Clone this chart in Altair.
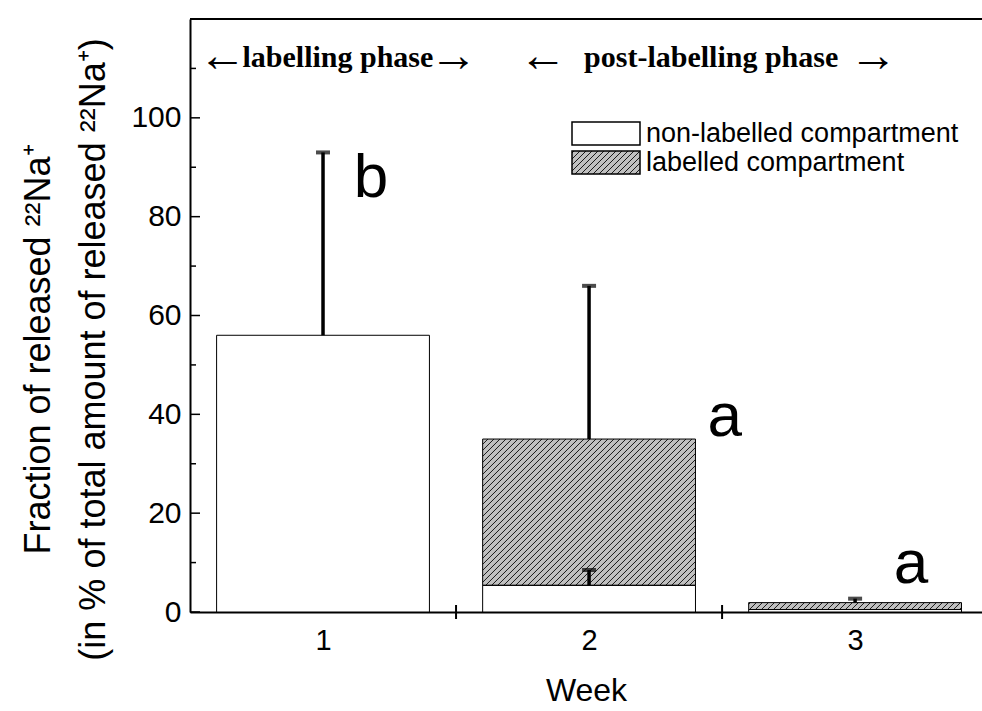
import altair as alt
import numpy as np
import pandas as pd

# ---- data -------------------------------------------------------------
weeks = [1, 2, 3]
non_labelled = [56.0, 5.4, 0.5]        # non-labelled compartment (%)
non_labelled_err = [37.0, 3.1, 0.0]    # upper error of the non-labelled part
labelled = [0.0, 29.6, 1.4]            # labelled compartment, stacked on top (%)
labelled_err = [0.0, 31.0, 0.8]        # upper error of the stacked total

sig_letters = ["b", "a", "a"]
letter_x = [1.18, 2.51, 3.21]
letter_y = [84.0, 35.7, 5.8]

phase_words = ["labelling phase", "post-labelling phase"]
phase_x = [1.056, 2.459]
arrow_glyphs = ["\u2190", "\u2192", "\u2190", "\u2192"]
arrow_x = [0.622, 1.490, 1.827, 3.068]
PHASE_Y = 110.3

legend_labels = ["non-labelled compartment", "labelled compartment"]

y_major = [0, 20, 40, 60, 80, 100]
y_minor = [10, 30, 50, 70, 90, 110]
x_between = [1.5, 2.5]

# ---- geometry ---------------------------------------------------------
W, H = 792, 593
X_DOM = [0.5, 3.477]
Y_DOM = [0, 120]
BAR_HALF = 0.4
KX = W / (X_DOM[1] - X_DOM[0])
KY = H / (Y_DOM[1] - Y_DOM[0])
HATCH_STEP = 6.0
FONT = "Liberation Sans"

xs = alt.Scale(domain=X_DOM, nice=False, zero=False)
ys = alt.Scale(domain=Y_DOM, nice=False)

y_title = ["Fraction of released \u00b2\u00b2Na\u207a",
           "(in % of total amount of released \u00b2\u00b2Na\u207a)"]

x_axis = alt.Axis(
    values=weeks, format="d", ticks=False, labelFontSize=29, labelFont=FONT,
    labelColor="black", labelPadding=14, domainColor="black", domainWidth=2,
    grid=False, title="Week", titleFont=FONT, titleFontSize=32,
    titleFontWeight="normal", titleColor="black", titlePadding=20)
y_axis = alt.Axis(
    values=y_major, ticks=False, labelFontSize=30, labelFont=FONT,
    labelColor="black", labelPadding=9, domainColor="black", domainWidth=2,
    grid=False, title=y_title, titleFont=FONT, titleFontSize=36,
    titleFontWeight="normal", titleColor="black", titleAngle=270,
    titleAlign="center", titleBaseline="alphabetic", titleLineHeight=55,
    titleX=-141, titleY=330)


def X(field):
    return alt.X(field, scale=xs, axis=x_axis)


def Y(field):
    return alt.Y(field, scale=ys, axis=y_axis)


def hatch_segments(x0, x1, y0, y1):
    """45-degree '/' hatch lines clipped to a rectangle given in data units."""
    u0, u1, v0, v1 = x0 * KX, x1 * KX, y0 * KY, y1 * KY
    k0 = int(np.ceil((v0 - u1) / HATCH_STEP))
    k1 = int(np.floor((v1 - u0) / HATCH_STEP))
    out = []
    for k in range(k0, k1 + 1):
        c = k * HATCH_STEP
        ua, ub = max(u0, v0 - c), min(u1, v1 - c)
        if ub - ua > 0.4:
            out.append(dict(hx=ua / KX, hy=(ua + c) / KY, hx2=ub / KX, hy2=(ub + c) / KY))
    return out


# bar segments, hatching and error bars
segs, hatch, errs = [], [], []
for w, nl, nle, lb, lbe in zip(weeks, non_labelled, non_labelled_err, labelled, labelled_err):
    x0, x1 = w - BAR_HALF, w + BAR_HALF
    segs.append(dict(x0=x0, x1=x1, y0=0.0, y1=nl, part="non-labelled"))
    if nle > 0:
        errs.append(dict(ex=w, lo=nl, hi=nl + nle))
    if lb > 0:
        segs.append(dict(x0=x0, x1=x1, y0=nl, y1=nl + lb, part="labelled"))
        hatch += hatch_segments(x0, x1, nl, nl + lb)
        if lbe > 0:
            errs.append(dict(ex=w, lo=nl + lb, hi=nl + lb + lbe))

seg_df = pd.DataFrame(segs)
hatch_df = pd.DataFrame(hatch)
err_df = pd.DataFrame(errs)

fill_scale = alt.Scale(domain=["non-labelled", "labelled"], range=["white", "#c0c0c0"])

bars = alt.Chart(seg_df).mark_rect(stroke=None).encode(
    x=X("x0:Q"), x2="x1:Q", y=Y("y0:Q"), y2="y1:Q",
    fill=alt.Fill("part:N", scale=fill_scale, legend=None),
)

hatch_lines = alt.Chart(hatch_df).mark_rule(color="#1a1a1a", strokeWidth=1).encode(
    x=X("hx:Q"), x2="hx2:Q", y=Y("hy:Q"), y2="hy2:Q",
)

outlines = alt.Chart(seg_df).mark_rect(fillOpacity=0, stroke="black", strokeWidth=1).encode(
    x=X("x0:Q"), x2="x1:Q", y=Y("y0:Q"), y2="y1:Q",
)

err_lines = alt.Chart(err_df).mark_rule(color="black", strokeWidth=3.5).encode(
    x=X("ex:Q"), y=Y("lo:Q"), y2="hi:Q",
)
err_caps = alt.Chart(err_df).mark_tick(color="black", orient="horizontal",
                                       size=14, thickness=4).encode(
    x=X("ex:Q"), y=Y("hi:Q"),
)

# inward y ticks, crossing x ticks between weeks, top frame line
ymaj = alt.Chart(pd.DataFrame({"v": y_major})).mark_rule(color="black", strokeWidth=1.5).encode(
    y=Y("v:Q"), x=alt.value(0), x2=alt.value(10))
ymin = alt.Chart(pd.DataFrame({"v": y_minor})).mark_rule(color="black", strokeWidth=1.5).encode(
    y=Y("v:Q"), x=alt.value(0), x2=alt.value(6))
xcross = alt.Chart(pd.DataFrame({"v": x_between})).mark_rule(color="black", strokeWidth=2).encode(
    x=X("v:Q"), y=alt.value(H - 7), y2=alt.value(H + 7))
top_line = alt.Chart(pd.DataFrame({"v": [0]})).mark_rule(color="black", strokeWidth=2).encode(
    x=alt.value(0), x2=alt.value(W), y=alt.value(0))

letters = alt.Chart(pd.DataFrame({"t": sig_letters, "x": letter_x, "y": letter_y})).mark_text(
    font=FONT, fontSize=62, align="center", baseline="alphabetic", color="black").encode(
    x=X("x:Q"), y=Y("y:Q"), text="t:N")

phases = alt.Chart(pd.DataFrame({"t": phase_words, "x": phase_x, "y": [PHASE_Y] * 2})).mark_text(
    font="Liberation Serif", fontSize=30, fontWeight="bold", align="center",
    baseline="alphabetic", color="black").encode(
    x=X("x:Q"), y=Y("y:Q"), text="t:N")

arrows = alt.Chart(pd.DataFrame({"t": arrow_glyphs, "x": arrow_x, "y": [PHASE_Y] * 4})).mark_text(
    font="Liberation Serif", fontSize=48, align="center", baseline="alphabetic",
    color="black", dy=4).encode(
    x=X("x:Q"), y=Y("y:Q"), text="t:N")

# legend drawn in pixel space
LEG_X0, LEG_X1 = 382, 450
leg_rows = pd.DataFrame({
    "lx0": [LEG_X0, LEG_X0], "lx1": [LEG_X1, LEG_X1],
    "ly0": [103, 132], "ly1": [126, 155],
    "part": ["non-labelled", "labelled"], "label": legend_labels,
})
leg_hatch = []
r = leg_rows.iloc[1]
for k in range(int((r.ly0 + LEG_X0) // HATCH_STEP), int((r.ly1 + LEG_X1) // HATCH_STEP) + 2):
    c = k * HATCH_STEP  # screen line: y = c - x
    xa, xb = max(LEG_X0, c - r.ly1), min(LEG_X1, c - r.ly0)
    if xb - xa > 0.4:
        leg_hatch.append(dict(px=xa, py=c - xa, px2=xb, py2=c - xb))
leg_hatch_df = pd.DataFrame(leg_hatch)

leg_fill = alt.Chart(leg_rows).mark_rect(stroke=None).encode(
    x=alt.X("lx0:Q", scale=None), x2="lx1:Q", y=alt.Y("ly0:Q", scale=None), y2="ly1:Q",
    fill=alt.Fill("part:N", scale=fill_scale, legend=None))
leg_lines = alt.Chart(leg_hatch_df).mark_rule(color="#1a1a1a", strokeWidth=1).encode(
    x=alt.X("px:Q", scale=None), x2="px2:Q", y=alt.Y("py:Q", scale=None), y2="py2:Q")
leg_box = alt.Chart(leg_rows).mark_rect(fillOpacity=0, stroke="black", strokeWidth=1.5).encode(
    x=alt.X("lx0:Q", scale=None), x2="lx1:Q", y=alt.Y("ly0:Q", scale=None), y2="ly1:Q")
leg_text = alt.Chart(leg_rows).mark_text(font=FONT, fontSize=27, align="left",
                                         baseline="middle", color="black", dx=6).encode(
    x=alt.X("lx1:Q", scale=None), y=alt.Y("ly0:Q", scale=None), yOffset=alt.value(12),
    text="label:N")

chart = alt.layer(
    bars, hatch_lines, outlines, ymaj, ymin, xcross, top_line,
    err_lines, err_caps, letters, phases, arrows,
    leg_fill, leg_lines, leg_box, leg_text,
).properties(
    width=W, height=H,
    autosize=alt.AutoSizeParams(type="none"),
    padding={"left": 190, "top": 19, "right": 0, "bottom": 99},
    background="white",
).configure_view(stroke=None)

chart.save("out.html", embed_options={"renderer": "svg", "actions": False})
